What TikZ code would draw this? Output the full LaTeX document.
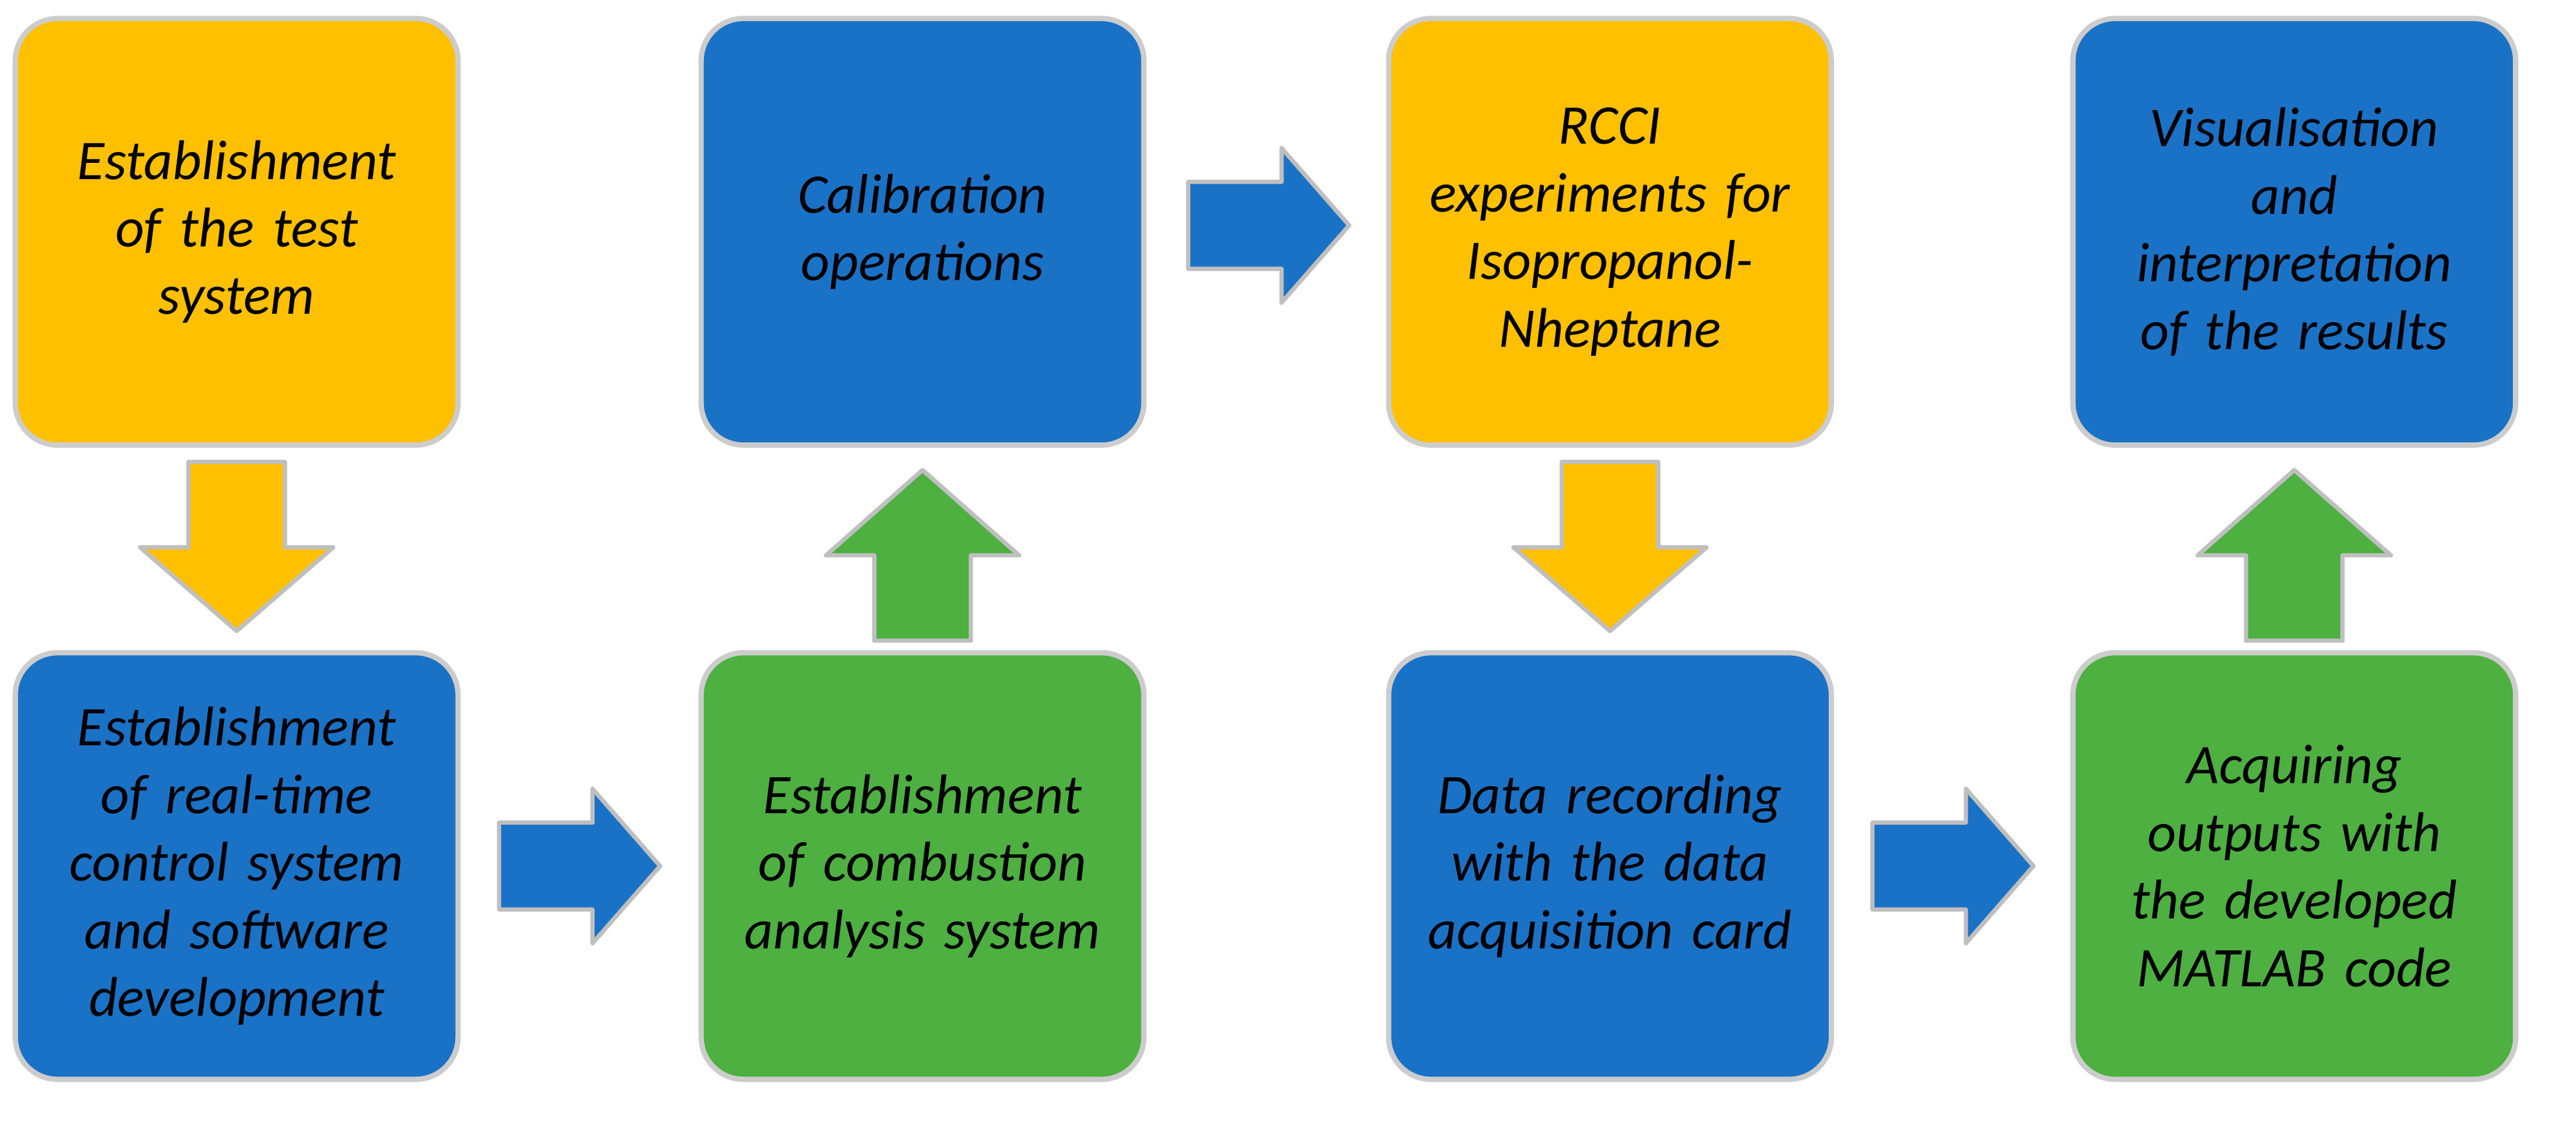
\documentclass[tikz,border=0pt]{standalone}
\usepackage{fontspec}
\setmainfont{Carlito}
\begin{document}
\definecolor{cor}{HTML}{FFC000}
\definecolor{cbl}{HTML}{1A72C6}
\definecolor{cgr}{HTML}{4DB041}
\begin{tikzpicture}[x=0.02678cm,y=-0.02678cm,
 box/.style={draw=white!80!black,line width=2.5pt,rounded corners=20,minimum width=275*0.02678cm,minimum height=265*0.02678cm,align=center,text width=255*0.02678cm,font=\fontsize{26.5}{32}\selectfont\itshape,inner sep=0pt},
 arr/.style={draw=white!75!black,line width=2pt,line join=round}]
\useasboundingbox (0,0) rectangle (1600,700);
\node[box,fill=cor] (a) at (147,144) {Establishment\\of the test\\system};
\node[box,fill=cbl] (b) at (147,538) {Establishment\\of real-time\\control system\\and software\\development};
\node[box,fill=cgr] (c) at (573,538) {Establishment\\of combustion\\analysis system};
\node[box,fill=cbl] (d) at (573,144) {Calibration\\operations};
\node[box,fill=cor] (e) at (1000,144) {RCCI\\experiments for\\Isopropanol-\\Nheptane};
\node[box,fill=cbl] (f) at (1000,538) {Data recording\\with the data\\acquisition card};
\node[box,fill=cgr] (g) at (1425,538) {Acquiring\\outputs with\\the developed\\MATLAB code};
\node[box,fill=cbl] (h) at (1425,144) {Visualisation\\and\\interpretation\\of the results};
\foreach \cx/\col in {147/cor,1000/cor}{
 \draw[arr,fill=\col] (\cx-30,287) -- (\cx+30,287) -- (\cx+30,340) -- (\cx+60,340) -- (\cx,392) -- (\cx-60,340) -- (\cx-30,340) -- cycle;}
\foreach \cx in {573,1425}{
 \draw[arr,fill=cgr] (\cx-30,398) -- (\cx+30,398) -- (\cx+30,345) -- (\cx+60,345) -- (\cx,292) -- (\cx-60,345) -- (\cx-30,345) -- cycle;}
\foreach \lx/\cy in {310/538,738/140,1163/538}{
 \draw[arr,fill=cbl] (\lx,\cy-27) -- (\lx+58,\cy-27) -- (\lx+58,\cy-48) -- (\lx+100,\cy) -- (\lx+58,\cy+48) -- (\lx+58,\cy+27) -- (\lx,\cy+27) -- cycle;}
\end{tikzpicture}
\end{document}
